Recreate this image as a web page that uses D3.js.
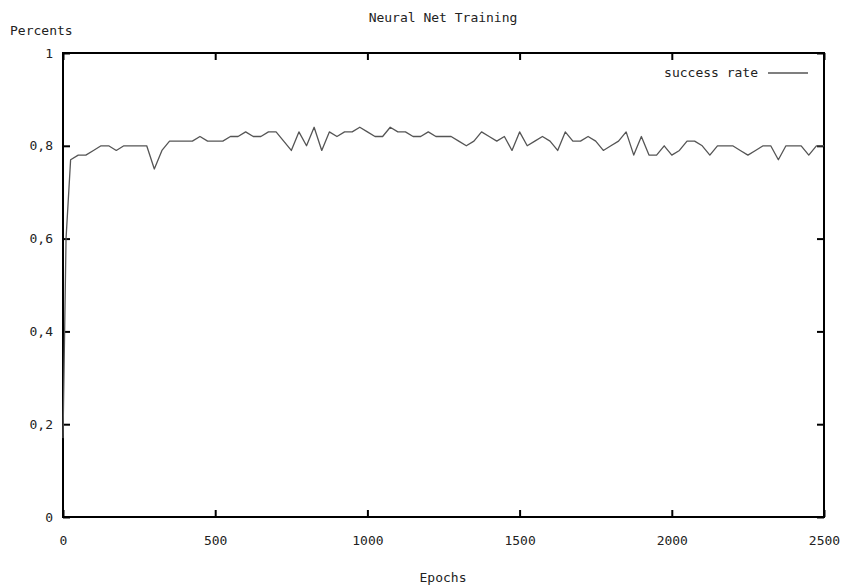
<!DOCTYPE html>
<html>
<head>
<meta charset="utf-8">
<script src="https://cdn.jsdelivr.net/npm/d3@7"></script>
<style>
  body { margin: 0; background: #fff; }
  text { font-family: "DejaVu Sans Mono", monospace; font-size: 13px; fill: #222; }
</style>
</head>
<body>
<svg id="chart" width="849" height="586"></svg>
<script>
// epochs (x) and success rate (y)
var epochs = [0, 10, 25, 50, 75, 100, 125, 150, 175, 200, 225, 250, 275, 300, 325, 350, 375, 400, 425, 450,
  475, 500, 525, 550, 575, 600, 625, 650, 675, 700, 725, 750, 775, 800, 825, 850, 875, 900, 925, 950,
  975, 1000, 1025, 1050, 1075, 1100, 1125, 1150, 1175, 1200, 1225, 1250, 1275, 1300, 1325, 1350, 1375, 1400,
  1425, 1450, 1475, 1500, 1525, 1550, 1575, 1600, 1625, 1650, 1675, 1700, 1725, 1750, 1775, 1800, 1825, 1850,
  1875, 1900, 1925, 1950, 1975, 2000, 2025, 2050, 2075, 2100, 2125, 2150, 2175, 2200, 2225, 2250, 2275, 2300,
  2325, 2350, 2375, 2400, 2425, 2450, 2475, 2500];

var successRate = [0.17, 0.6, 0.77, 0.78, 0.78, 0.79, 0.80, 0.80, 0.79, 0.80, 0.80, 0.80, 0.80, 0.75, 0.79, 0.81, 0.81, 0.81, 0.81, 0.82,
  0.81, 0.81, 0.81, 0.82, 0.82, 0.83, 0.82, 0.82, 0.83, 0.83, 0.81, 0.79, 0.83, 0.80, 0.84, 0.79, 0.83, 0.82, 0.83, 0.83,
  0.84, 0.83, 0.82, 0.82, 0.84, 0.83, 0.83, 0.82, 0.82, 0.83, 0.82, 0.82, 0.82, 0.81, 0.80, 0.81, 0.83, 0.82,
  0.81, 0.82, 0.79, 0.83, 0.80, 0.81, 0.82, 0.81, 0.79, 0.83, 0.81, 0.81, 0.82, 0.81, 0.79, 0.80, 0.81, 0.83,
  0.78, 0.82, 0.78, 0.78, 0.80, 0.78, 0.79, 0.81, 0.81, 0.80, 0.78, 0.80, 0.80, 0.80, 0.79, 0.78, 0.79, 0.80,
  0.80, 0.77, 0.80, 0.80, 0.80, 0.78, 0.80, 0.80];

var xTicks = [0, 500, 1000, 1500, 2000, 2500];
var yTicks = [0, 0.2, 0.4, 0.6, 0.8, 1];

var chartTitle = 'Neural Net Training';
var xTitle = 'Epochs';
var yTitle = 'Percents';
var seriesName = 'success rate';

var svg = d3.select('#chart');
// plot box (window.top is read-only, so no plain "top" here)
var plotLeft = 63, plotRight = 824, plotTop = 53, plotBottom = 517;

var x = d3.scaleLinear().domain([0, 2500]).range([plotLeft, plotRight]);
var y = d3.scaleLinear().domain([0, 1]).range([plotBottom, plotTop]);

// comma decimal, as in the original
var fmt = d3.formatLocale({ decimal: ',', thousands: '', grouping: [3], currency: ['', ''] }).format('.1~f');

/*
 * axes (ticks point inwards, mirrored on top/right)
 */
var gx = svg.append('g').attr('transform', 'translate(0,' + plotBottom + ')')
  .call(d3.axisBottom(x).tickValues(xTicks).tickSize(-7).tickPadding(19).tickFormat(d3.format('d')));
var gxTop = svg.append('g').attr('transform', 'translate(0,' + plotTop + ')')
  .call(d3.axisTop(x).tickValues(xTicks).tickSize(-7).tickFormat(''));
var gy = svg.append('g').attr('transform', 'translate(' + plotLeft + ',0)')
  .call(d3.axisLeft(y).tickValues(yTicks).tickSize(-7).tickPadding(10).tickFormat(fmt));
var gyRight = svg.append('g').attr('transform', 'translate(' + plotRight + ',0)')
  .call(d3.axisRight(y).tickValues(yTicks).tickSize(-7).tickFormat(''));

[gx, gxTop, gy, gyRight].forEach(function(g) {
  g.select('.domain').remove();
  g.selectAll('.tick line').attr('stroke', '#000').attr('stroke-width', 2);
  g.selectAll('.tick text').attr('font-family', null).attr('font-size', null).style('fill', '#222');
});

// frame
svg.append('rect')
  .attr('x', plotLeft).attr('y', plotTop)
  .attr('width', plotRight - plotLeft).attr('height', plotBottom - plotTop)
  .attr('fill', 'none').attr('stroke', '#000').attr('stroke-width', 2);

// data line
var line = d3.line()
  .x(function(d, i) { return x(epochs[i]); })
  .y(function(d) { return y(d); });

svg.append('path')
  .datum(successRate)
  .attr('d', line)
  .attr('fill', 'none')
  .attr('stroke', '#555')
  .attr('stroke-width', 1.3)
  .attr('stroke-linejoin', 'round');

/*
 * labels
 */
svg.append('text').attr('x', 443).attr('y', 22).attr('text-anchor', 'middle').text(chartTitle);
svg.append('text').attr('x', 10).attr('y', 35).text(yTitle);
svg.append('text').attr('x', 443).attr('y', 582).attr('text-anchor', 'middle').text(xTitle);

// legend
svg.append('text').attr('x', 758).attr('y', 77).attr('text-anchor', 'end').text(seriesName);
svg.append('line')
  .attr('x1', 768).attr('x2', 808).attr('y1', 73).attr('y2', 73)
  .attr('stroke', '#555').attr('stroke-width', 1.3);
</script>
</body>
</html>
